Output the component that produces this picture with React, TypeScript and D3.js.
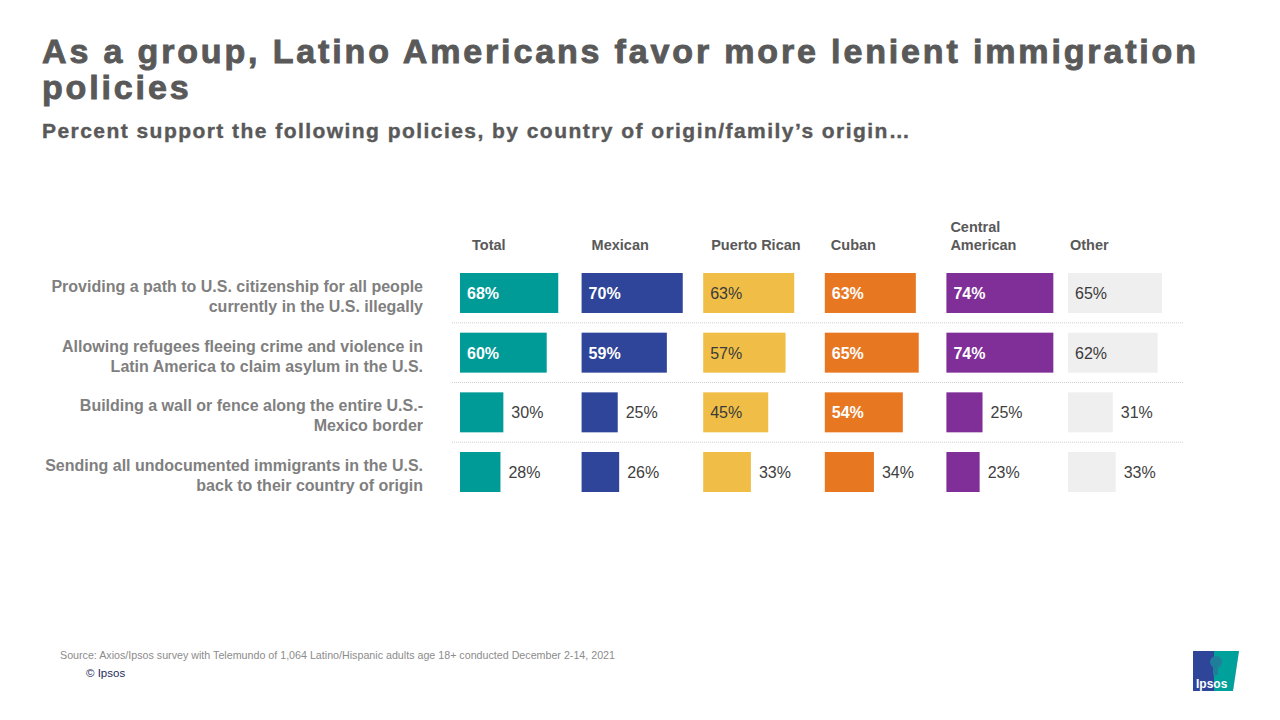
import React from "react";
import * as d3 from "d3";

const groups = ["Total", "Mexican", "Puerto Rican", "Cuban", "Central American", "Other"];
const groupHeaders = [["Total"], ["Mexican"], ["Puerto Rican"], ["Cuban"], ["Central", "American"], ["Other"]];
const groupColors = ["#009b97", "#2e4599", "#f0be46", "#e87722", "#7f2f97", "#efefef"];
const groupTextColors = ["#ffffff", "#ffffff", "#3a3a3a", "#ffffff", "#ffffff", "#3a3a3a"];

const policies = [
  ["Providing a path to U.S. citizenship for all people", "currently in the U.S. illegally"],
  ["Allowing refugees fleeing crime and violence in", "Latin America to claim asylum in the U.S."],
  ["Building a wall or fence along the entire U.S.-", "Mexico border"],
  ["Sending all undocumented immigrants in the U.S.", "back to their country of origin"],
];

// percent support, one array per policy, in group order
const pathToCitizenship = [68, 70, 63, 63, 74, 65];
const refugeeAsylum = [60, 59, 57, 65, 74, 62];
const borderWall = [30, 25, 45, 54, 25, 31];
const deportAll = [28, 26, 33, 34, 23, 33];
const values = [pathToCitizenship, refugeeAsylum, borderWall, deportAll];

const FONT = "'Liberation Sans', Arial, sans-serif";

export default function App() {
  const width = 1280;
  const height = 720;

  const col = d3.scaleBand<string>().domain(groups).range([460, 1189.6]).padding(0);
  const row = d3.scaleBand<number>().domain(d3.range(policies.length)).range([273, 492]).paddingInner(0.33).paddingOuter(0);
  const w = d3.scaleLinear().domain([0, 100]).range([0, 144.5]);

  const rowStep = row.step();
  const gap = rowStep - row.bandwidth();

  return (
    <svg width={width} height={height} style={{ position: "absolute", left: 0, top: 0, background: "#fff" }} fontFamily={FONT}>
      <rect width={width} height={height} fill="#fff" />

      {/* title block: heavy, wide face */}
      <g fill="#595959" stroke="#595959" fontWeight="bold">
        <text x={42} y={63} fontSize={34} letterSpacing={2.85} strokeWidth={0.9}>
          As a group, Latino Americans favor more lenient immigration
        </text>
        <text x={42} y={99} fontSize={34} letterSpacing={2.85} strokeWidth={0.9}>
          policies
        </text>
        <text x={42} y={138} fontSize={21} letterSpacing={1.45} strokeWidth={0.4}>
          Percent support the following policies, by country of origin/family’s origin…
        </text>
      </g>

      {/* column headers */}
      {groupHeaders.map((lines, i) => {
        const x = (col(groups[i]) as number) + 12 - i * 2;
        const base = 250 - (lines.length - 1) * 18;
        return (
          <text key={groups[i]} x={x} fontSize={14.5} fontWeight="bold" fill="#595959">
            {lines.map((l, j) => (
              <tspan key={j} x={x} y={base + j * 18}>{l}</tspan>
            ))}
          </text>
        );
      })}

      {/* row separators */}
      {d3.range(policies.length - 1).map((i) => {
        const y = (row(i) as number) + row.bandwidth() + gap / 2;
        return <line key={i} x1={452} x2={1183} y1={y} y2={y} stroke="#d0d0d0" strokeWidth={1} strokeDasharray="1,1" />;
      })}

      {/* policy labels */}
      {policies.map((lines, i) => {
        const y0 = (row(i) as number) + 19;
        return (
          <text key={i} textAnchor="end" fontSize={16} fontWeight="bold" fill="#7f7f7f">
            {lines.map((l, j) => (
              <tspan key={j} x={423} y={y0 + j * 20}>{l}</tspan>
            ))}
          </text>
        );
      })}

      {/* bars and value labels */}
      {values.map((vals, r) =>
        vals.map((v, c) => {
          const x = col(groups[c]) as number;
          const y = row(r) as number;
          const bw = w(v);
          const inside = v >= 40;
          return (
            <g key={`${r}-${c}`}>
              <rect x={x} y={y} width={bw} height={row.bandwidth()} fill={groupColors[c]} />
              <text
                x={inside ? x + 7 : x + bw + 8}
                y={y + row.bandwidth() / 2 + 6}
                fontSize={16}
                fontWeight={inside && groupTextColors[c] === "#ffffff" ? "bold" : "normal"}
                fill={inside ? groupTextColors[c] : "#404040"}
              >
                {v}%
              </text>
            </g>
          );
        })
      )}

      {/* footer */}
      <text x={60} y={659} fontSize={10.7} fill="#8c8c8c">
        Source: Axios/Ipsos survey with Telemundo of 1,064 Latino/Hispanic adults age 18+ conducted December 2-14, 2021
      </text>
      <text x={86} y={677} fontSize={11.5} fill="#1f2a5a">© Ipsos</text>

      {/* logo */}
      <g>
        <rect x={1193} y={651} width={46} height={40} fill="#2e4599" />
        <path d="M1214,651 L1239,651 Q1236,671 1233,691 L1214,691 Z" fill="#00a19a" />
        <path d="M1233,691 L1239,691 L1239,651 Q1236,671 1233,691 Z" fill="#fff" />
        <circle cx={1216} cy={662} r={6} fill="#1f7f9a" />
        <rect x={1213} y={666} width={5} height={9} fill="#1f7f9a" />
        <text x={1196} y={688} fontSize={12} fontWeight="bold" fill="#fff">Ipsos</text>
      </g>
    </svg>
  );
}
